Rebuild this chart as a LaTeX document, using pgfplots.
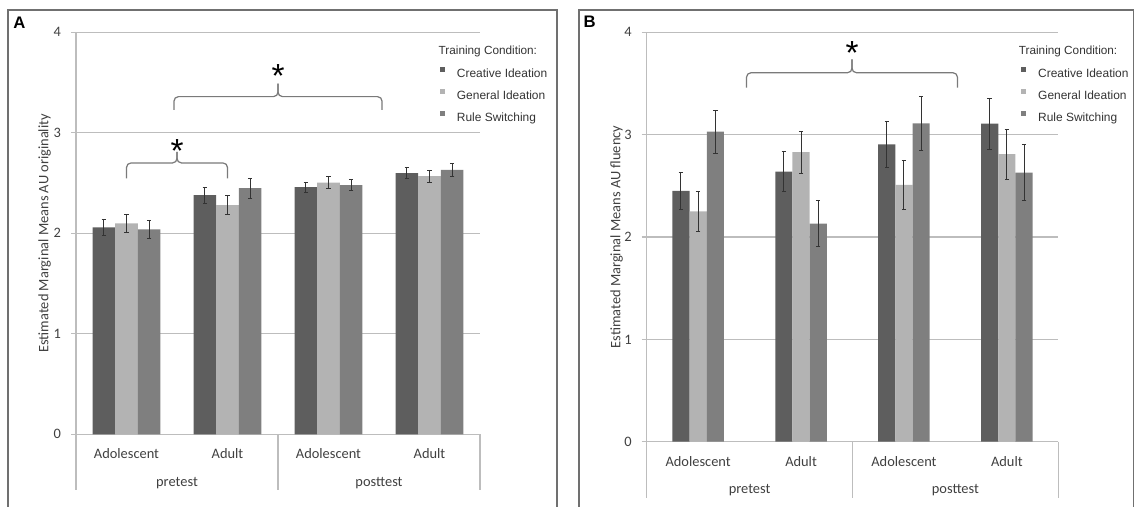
\documentclass[border=0pt]{standalone}
\usepackage{fontspec}
\setmainfont{Liberation Sans}
\newfontfamily\calib{Carlito}
\usepackage{pgfplots}
\pgfplotsset{compat=1.18}
\definecolor{ci}{HTML}{5E5E5E}
\definecolor{gi}{HTML}{B3B3B3}
\definecolor{rs}{HTML}{7F7F7F}
\definecolor{gridc}{HTML}{BDBDBD}
\definecolor{framec}{HTML}{707070}
\definecolor{txt}{HTML}{404040}
\definecolor{bracec}{HTML}{7A7A7A}
\pgfplotsset{
 panel/.style={
   scale only axis, ymin=0, ymax=4, xmin=-0.5, xmax=3.5,
   ybar=0pt,
   axis x line*=bottom, axis y line*=left,
   axis line style={gridc, line width=0.6pt, -},
   ymajorgrids, grid style={gridc, line width=0.6pt},
   ytick={0,1,2,3,4}, xtick={0,1,2,3},
   xticklabels={Adolescent,Adult,Adolescent,Adult},
   x tick style={draw=none},
   y tick style={gridc, line width=0.6pt},
   tick align=outside, major tick length=0.1cm,
   /pgf/number format/assume math mode=true,
   ticklabel style={font=\calib\fontsize{8.2}{9}\selectfont, text=txt},
   xticklabel style={anchor=center, yshift=-0.29cm},
   yticklabel style={anchor=center},
   yticklabel shift=0.274cm,
   ylabel style={font=\calib\fontsize{8.2}{9}\selectfont, text=txt, anchor=center},
   clip=false,
   error bars/y dir=both, error bars/y explicit,
   error bars/error bar style={draw=black!80, line width=0.55pt},
   error bars/error mark options={rotate=90, draw=black!80, mark size=0.045cm, line width=0.55pt},
   legend style={draw=none, fill=none, inner sep=0pt, anchor=north west,
     font=\fontsize{6.8}{8}\selectfont, text=black!80,
     nodes={inner sep=0pt, text height=0.2cm, text depth=0.05cm},
     row sep=0.18cm, column sep=0.24cm},
   legend cell align=left,
   legend image code/.code={\fill[#1] (0cm,0.035cm) rectangle (0.1cm,0.135cm);},
 }
}
\begin{document}
\begin{tikzpicture}
\useasboundingbox (0,0) rectangle (22.7,-10.12);
\draw[framec, line width=1.1pt] (0.166,-10.5) -- (0.166,-0.2) -- (11.146,-0.2) -- (11.146,-10.5);
\draw[framec, line width=1.1pt] (11.58,-10.5) -- (11.58,-0.2) -- (22.67,-0.2) -- (22.67,-10.5);
\node[anchor=base west, inner sep=0pt, font=\bfseries\fontsize{9.5}{10}\selectfont] at (0.26,-0.566) {A};
\node[anchor=base west, inner sep=0pt, font=\bfseries\fontsize{9.5}{10}\selectfont] at (11.666,-0.546) {B};
\node[anchor=west, inner sep=0pt, font=\fontsize{6.7}{8}\selectfont, text=black!80] at (8.766,-1.034) {Training Condition:};
\node[anchor=west, inner sep=0pt, font=\fontsize{6.7}{8}\selectfont, text=black!80] at (20.37,-1.034) {Training Condition:};

% Panel A: originality
\begin{axis}[panel, at={(1.52cm,-8.686cm)}, anchor=south west,
  width=8.08cm, height=8.04cm, bar width=0.224,
  ylabel={Estimated Marginal Means AU originality},
  ylabel style={at={(axis description cs:-0.0775,0.5)}},
  legend style={at={(0.900,0.915)}}]
\addplot[fill=ci, draw=none] coordinates {(0,2.06) +- (0,0.08) (1,2.38) +- (0,0.08) (2,2.46) +- (0,0.05) (3,2.60) +- (0,0.055)};
\addplot[fill=gi, draw=none] coordinates {(0,2.10) +- (0,0.09) (1,2.28) +- (0,0.095) (2,2.505) +- (0,0.058) (3,2.57) +- (0,0.06)};
\addplot[fill=rs, draw=none] coordinates {(0,2.04) +- (0,0.09) (1,2.45) +- (0,0.10) (2,2.48) +- (0,0.055) (3,2.63) +- (0,0.06)};
\legend{Creative Ideation, General Ideation, Rule Switching}
\draw[gridc, line width=0.6pt] (axis cs:-0.5,0) -- ++(0pt,-1.114cm);
\draw[gridc, line width=0.6pt] (axis cs:1.5,0) -- ++(0pt,-1.114cm);
\draw[gridc, line width=0.6pt] (axis cs:3.5,0) -- ++(0pt,-1.114cm);
\node[font=\calib\fontsize{8.2}{9}\selectfont, text=txt] at ([yshift=-0.974cm]axis cs:0.5,0) {pretest};
\node[font=\calib\fontsize{8.2}{9}\selectfont, text=txt] at ([yshift=-0.974cm]axis cs:2.5,0) {posttest};
\draw[bracec, line width=0.7pt, rounded corners=0.09cm] (axis cs:0,2.547) -- (axis cs:0,2.70) -- (axis cs:0.5,2.70) -- (axis cs:0.5,2.81);
\draw[bracec, line width=0.7pt, rounded corners=0.09cm] (axis cs:1,2.547) -- (axis cs:1,2.70) -- (axis cs:0.5,2.70) -- (axis cs:0.5,2.81);
\draw[bracec, line width=0.7pt, rounded corners=0.09cm] (axis cs:0.47,3.227) -- (axis cs:0.47,3.36) -- (axis cs:1.5,3.36) -- (axis cs:1.5,3.49);
\draw[bracec, line width=0.7pt, rounded corners=0.09cm] (axis cs:2.53,3.227) -- (axis cs:2.53,3.36) -- (axis cs:1.5,3.36) -- (axis cs:1.5,3.49);
\node[anchor=base, inner sep=0pt, font=\fontsize{19}{19}\selectfont, yshift=-0.388cm] at (axis cs:0.5,2.895) {*};
\node[anchor=base, inner sep=0pt, font=\fontsize{19}{19}\selectfont, yshift=-0.388cm] at (axis cs:1.5,3.64) {*};
\end{axis}

% Panel B: fluency
\begin{axis}[panel, at={(12.934cm,-8.834cm)}, anchor=south west,
  width=8.232cm, height=8.188cm, bar width=0.167,
  ylabel={Estimated Marginal Means AU fluency},
  ylabel style={at={(axis description cs:-0.0729,0.5)}},
  legend style={at={(0.909,0.9166)}}]
\addplot[fill=ci, draw=none] coordinates {(0,2.45) +- (0,0.18) (1,2.64) +- (0,0.20) (2,2.905) +- (0,0.225) (3,3.107) +- (0,0.25)};
\addplot[fill=gi, draw=none] coordinates {(0,2.25) +- (0,0.195) (1,2.83) +- (0,0.205) (2,2.51) +- (0,0.24) (3,2.81) +- (0,0.245)};
\addplot[fill=rs, draw=none] coordinates {(0,3.03) +- (0,0.21) (1,2.13) +- (0,0.225) (2,3.11) +- (0,0.26) (3,2.63) +- (0,0.275)};
\legend{Creative Ideation, General Ideation, Rule Switching}
\draw[gridc, line width=0.6pt] (axis cs:-0.5,0) -- ++(0pt,-1.126cm);
\draw[gridc, line width=0.6pt] (axis cs:1.5,0) -- ++(0pt,-1.126cm);
\draw[gridc, line width=0.6pt] (axis cs:3.5,0) -- ++(0pt,-1.126cm);
\node[font=\calib\fontsize{8.2}{9}\selectfont, text=txt] at ([yshift=-0.966cm]axis cs:0.5,0) {pretest};
\node[font=\calib\fontsize{8.2}{9}\selectfont, text=txt] at ([yshift=-0.966cm]axis cs:2.5,0) {posttest};
\draw[bracec, line width=0.7pt, rounded corners=0.09cm] (axis cs:0.47,3.46) -- (axis cs:0.47,3.605) -- (axis cs:1.495,3.605) -- (axis cs:1.495,3.735);
\draw[bracec, line width=0.7pt, rounded corners=0.09cm] (axis cs:2.52,3.46) -- (axis cs:2.52,3.605) -- (axis cs:1.495,3.605) -- (axis cs:1.495,3.735);
\node[anchor=base, inner sep=0pt, font=\fontsize{19}{19}\selectfont, yshift=-0.388cm] at (axis cs:1.495,3.876) {*};
\end{axis}
\end{tikzpicture}
\end{document}
